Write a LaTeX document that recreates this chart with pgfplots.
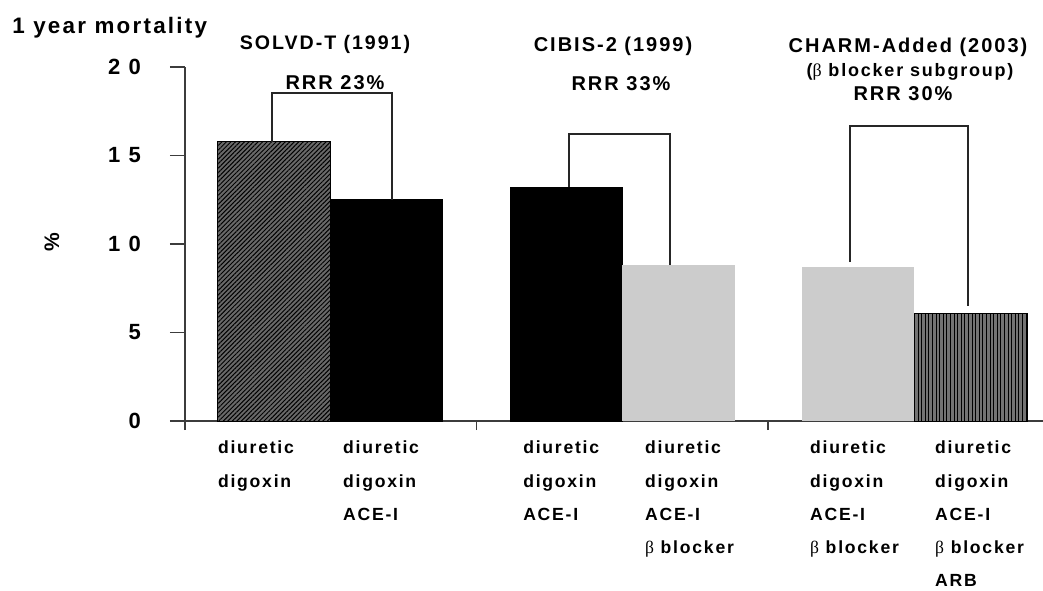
\documentclass[border=0pt]{standalone}
\usepackage{fontspec}
\setmainfont{Liberation Sans}[LetterSpace=10]
\newfontfamily\grk{Liberation Serif}
\usepackage{pgfplots}
\pgfplotsset{compat=1.18}
\usetikzlibrary{patterns.meta}
\definecolor{axgray}{RGB}{60,60,60}
\definecolor{lightbar}{RGB}{204,204,204}
\definecolor{hatchbg}{RGB}{105,105,105}
\definecolor{stripebg}{RGB}{115,115,115}

\begin{document}
\begin{tikzpicture}[font=\bfseries]
\begin{axis}[
  at={(92.5pt,-210.5pt)}, anchor=south west,
  scale only axis, width=429pt, height=177pt,
  xmin=0, xmax=2.943, ymin=0, ymax=20,
  axis x line=bottom, axis y line=left,
  axis line style={-, draw=axgray, line width=0.75pt},
  tick align=outside, major tick length=7.5pt,
  ytick={0,5,10,15,20},
  yticklabels={0,5,1 0,1 5,2 0},
  yticklabel style={font=\fontsize{11}{13}\selectfont\bfseries, xshift=-11pt},
  ytick style={draw=axgray, line width=0.75pt},
  xtick={0.113,0.542,1.160,1.578,2.144,2.573},
  xtick style={draw=none},
  xticklabels={
    {diuretic\\digoxin},
    {diuretic\\digoxin\\ACE-I},
    {diuretic\\digoxin\\ACE-I},
    {diuretic\\digoxin\\ACE-I\\{\grk\mdseries β} blocker},
    {diuretic\\digoxin\\ACE-I\\{\grk\mdseries β} blocker},
    {diuretic\\digoxin\\ACE-I\\{\grk\mdseries β} blocker\\ARB}},
  xticklabel style={anchor=north west, align=left, xshift=-3.5pt, yshift=1pt,
    font=\fontsize{8.8}{16.6}\selectfont\bfseries},
  extra x ticks={0,1,2},
  extra x tick labels={},
  extra x tick style={major tick length=4.5pt,
    xtick style={draw=axgray, line width=0.75pt}},
  ybar, bar shift=0pt, bar width=0.385,
  clip=false,
]
% SOLVD-T
\addplot[fill=hatchbg, draw=black, line width=0.5pt,
  postaction={pattern={Lines[angle=45,distance=1.6pt,line width=0.5pt]}, pattern color=black}]
  coordinates {(0.305,15.8)};
\addplot[fill=black, draw=black] coordinates {(0.691,12.5)};
% CIBIS-2
\addplot[fill=black, draw=black] coordinates {(1.309,13.2)};
\addplot[fill=lightbar, draw=none] coordinates {(1.693,8.8)};
% CHARM-Added
\addplot[fill=lightbar, draw=none] coordinates {(2.309,8.7)};
\addplot[fill=stripebg, draw=black, line width=0.5pt,
  postaction={pattern={Lines[angle=90,distance=1.8pt,line width=0.5pt]}, pattern color=black}]
  coordinates {(2.696,6.1)};
\end{axis}

\begin{scope}[x=0.5pt, y=-0.5pt]
  \node[anchor=base west, font=\fontsize{11.2}{13}\selectfont\bfseries, inner sep=0pt]
    at (12,33) {1 year mortality};
  \node[rotate=90, font=\fontsize{10.5}{12}\selectfont\bfseries] at (52,242) {\%};

  \begin{scope}[font=\fontsize{10}{12}\selectfont\bfseries, inner sep=0pt]
    \node[anchor=base, font=\fontsize{9.8}{12}\selectfont\bfseries] at (325,49) {SOLVD-T (1991)};
    \node[anchor=base] at (335,89) {RRR 23\%};
    \node[anchor=base] at (613,51) {CIBIS-2 (1999)};
    \node[anchor=base] at (621,90) {RRR 33\%};
    \node[anchor=base] at (908,52) {CHARM-Added (2003)};
    \node[anchor=base, font=\fontsize{9}{12}\selectfont\bfseries] at (910,76)
      {({\grk\mdseries β} blocker subgroup)};
    \node[anchor=base] at (903,100) {RRR 30\%};
  \end{scope}

  \begin{scope}[draw=black!85, line width=0.7pt]
    \draw (272,142) -- (272,93) -- (392,93) -- (392,200);
    \draw (569,187) -- (569,134) -- (670,134) -- (670,265);
    \draw (850,262) -- (850,126) -- (968,126) -- (968,306);
  \end{scope}

  \pgfresetboundingbox
  \path[use as bounding box] (0,0) rectangle (1043,590);
\end{scope}
\end{tikzpicture}
\end{document}
